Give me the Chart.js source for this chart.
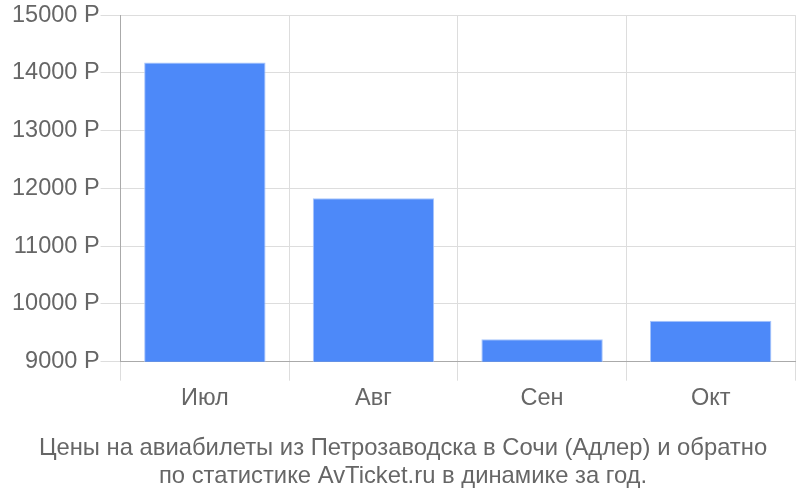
<!DOCTYPE html>
<html>
<head>
<meta charset="utf-8">
<script src="https://cdn.jsdelivr.net/npm/chart.js@4"></script>
<style>
  html, body { margin: 0; padding: 0; background: #fff; }
  #wrap { width: 800px; height: 500px; }
</style>
</head>
<body>
<div id="wrap"><canvas id="chart"></canvas></div>
<script>
const months = ['Июл', 'Авг', 'Сен', 'Окт'];
const prices = [14180, 11830, 9390, 9710];
const titleLines = [
  'Цены на авиабилеты из Петрозаводска в Сочи (Адлер) и обратно',
  'по статистике AvTicket.ru в динамике за год.'
];

Chart.defaults.font.family = '"Liberation Sans", Arial, sans-serif';
Chart.defaults.color = '#666';

new Chart(document.getElementById('chart'), {
  type: 'bar',
  data: {
    labels: months,
    datasets: [{
      data: prices,
      backgroundColor: '#4d89f9',
      borderColor: '#a9c6fb',
      borderWidth: 1
    }]
  },
  options: {
    responsive: true,
    maintainAspectRatio: false,
    animation: { duration: 0 },
    layout: { padding: { top: 0, right: 5, left: 11, bottom: 9 } },
    plugins: {
      legend: { display: false },
      tooltip: { enabled: false },
      title: {
        display: true,
        position: 'bottom',
        text: titleLines,
        color: '#666',
        font: { size: 23.8, weight: 'normal' },
        lineHeight: 1.22,
        padding: { top: 17, bottom: 0 }
      }
    },
    scales: {
      x: {
        grid: { color: '#ddd', tickLength: 19, offset: true },
        border: { color: '#aaa', display: true },
        ticks: { font: { size: 23.5 }, padding: 4 }
      },
      y: {
        min: 9000,
        max: 15000,
        grid: { color: '#ddd', tickLength: 20 },
        border: { color: '#aaa' },
        ticks: {
          stepSize: 1000,
          font: { size: 23.5 },
          padding: 1,
          callback: v => v + ' Р'
        }
      }
    }
  }
});
</script>
</body>
</html>
